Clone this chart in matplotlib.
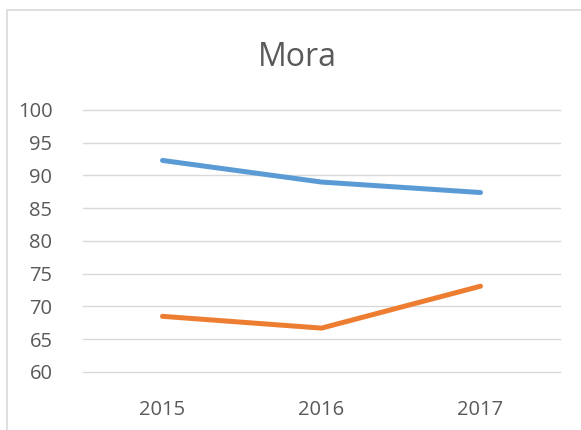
import matplotlib.pyplot as plt
from matplotlib.patches import Rectangle

years = ['2015', '2016', '2017']
serie_azul = [92.3, 89.0, 87.4]
serie_naranja = [68.5, 66.7, 73.1]
yticks = [60, 65, 70, 75, 80, 85, 90, 95, 100]

plt.rcParams['font.family'] = ['Open Sans', 'DejaVu Sans']

W, H = 581, 430
fig = plt.figure(figsize=(W / 100, H / 100), dpi=100)
ax = fig.add_axes([83 / W, 1 - 372 / H, (560 - 83) / W, (372 - 110) / H])

x = range(len(years))
ax.plot(x, serie_azul, color='#5B9BD5', lw=3.6, solid_capstyle='round', solid_joinstyle='round', zorder=3)
ax.plot(x, serie_naranja, color='#ED7D31', lw=3.6, solid_capstyle='round', solid_joinstyle='round', zorder=3)

ax.set_xlim(-0.5, 2.5)
ax.set_ylim(60, 100)
ax.set_yticks(yticks)
ax.set_xticks(list(x))
ax.set_xticklabels(years)
ax.grid(axis='y', color='#D9D9D9', lw=1.0)
for gl in ax.get_ygridlines():
    gl.set_clip_on(False)
ax.set_axisbelow(True)
for s in ax.spines.values():
    s.set_visible(False)
ax.tick_params(length=0, labelsize=14.5, labelcolor='#595959')
ax.tick_params(axis='y', pad=22)
ax.tick_params(axis='x', pad=20)

fig.text(297 / W, 1 - 57 / H, 'Mora', ha='center', va='center', fontsize=23, color='#595959')

# borde del área del gráfico
fig.patches.append(Rectangle((7 / W, -0.1), 1.2, 1 - 10 / H + 0.1, transform=fig.transFigure,
                             fill=False, ec='#D9D9D9', lw=1.2))

plt.savefig('out.png', dpi=100)
